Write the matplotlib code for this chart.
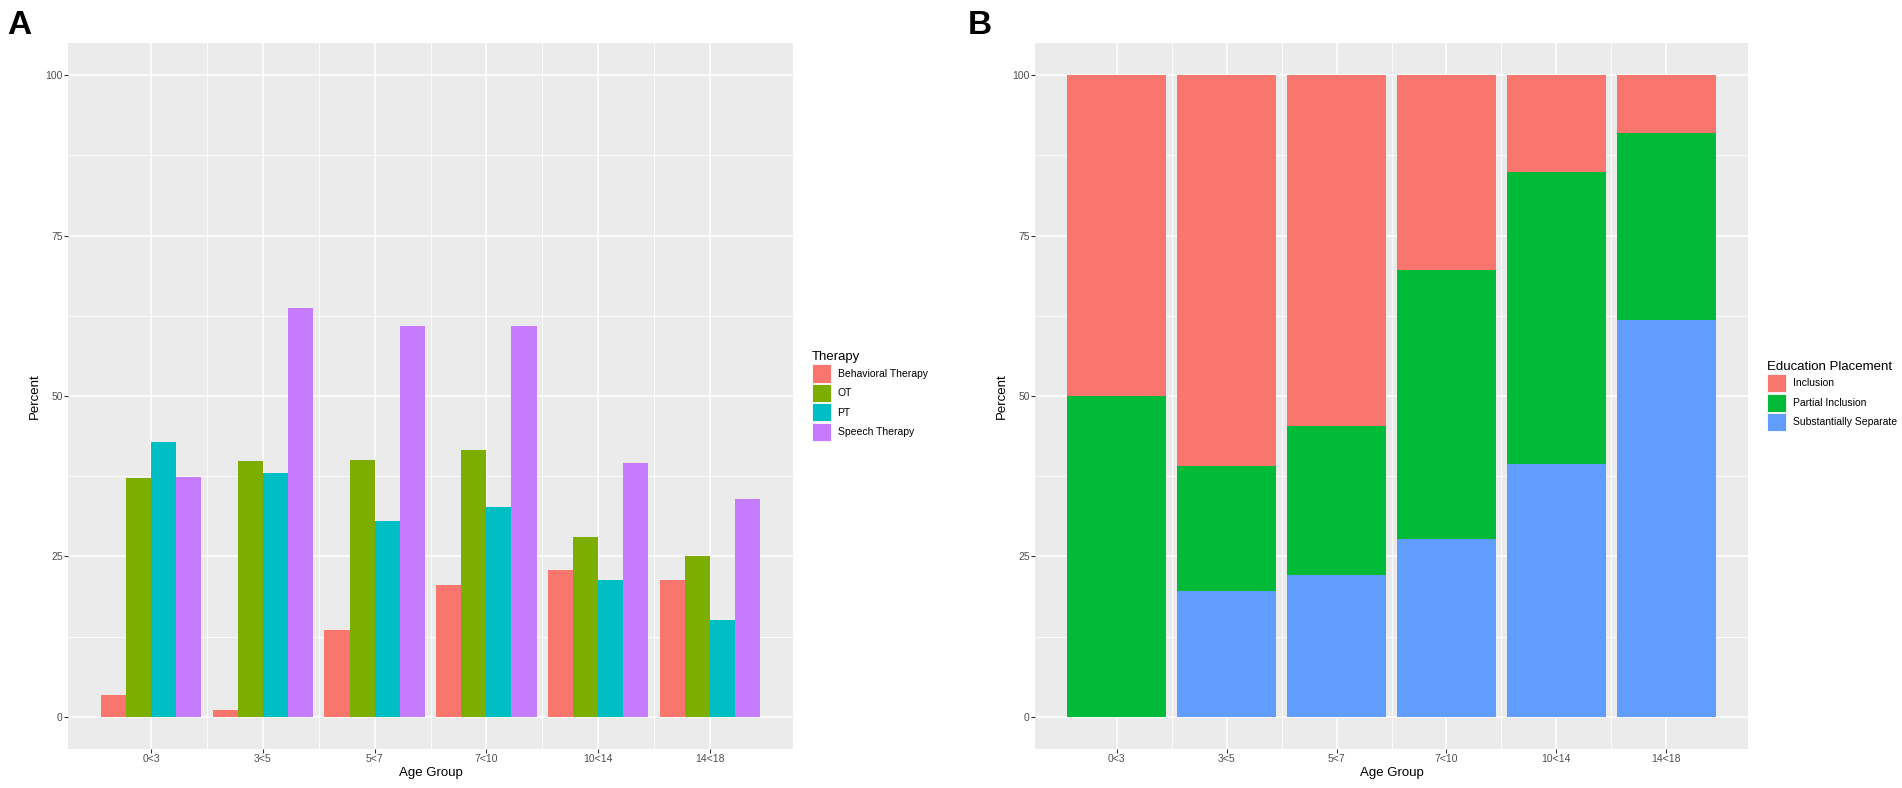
import numpy as np
import matplotlib
matplotlib.use("Agg")
import matplotlib.pyplot as plt
from matplotlib.patches import Patch

plt.rcParams['font.family'] = ['Liberation Sans Narrow', 'Liberation Sans', 'DejaVu Sans']

# data
age_groups = ["0<3", "3<5", "5<7", "7<10", "10<14", "14<18"]

therapy_names = ["Behavioral Therapy", "OT", "PT", "Speech Therapy"]
behavioral = [3.4, 1.1, 13.6, 20.6, 22.9, 21.4]
ot = [37.2, 39.9, 40.1, 41.6, 28.0, 25.0]
pt = [42.9, 38.0, 30.6, 32.7, 21.4, 15.1]
speech = [37.4, 63.7, 60.9, 60.9, 39.5, 34.0]
therapy_colors = ["#F8766D", "#7CAE00", "#00BFC4", "#C77CFF"]

placement_names = ["Inclusion", "Partial Inclusion", "Substantially Separate"]
inclusion = [50.0, 60.9, 54.7, 30.4, 15.1, 9.1]
partial = [50.0, 19.5, 23.2, 41.9, 45.5, 29.0]
separate = [0.0, 19.6, 22.1, 27.7, 39.4, 61.9]
placement_colors = ["#F8766D", "#00BA38", "#619CFF"]

W, H = 1902, 788
fig = plt.figure(figsize=(W / 100, H / 100), dpi=100)

# panel boxes in pixels (left, top, right, bottom)
axA = fig.add_axes([68 / W, 1 - 749 / H, (793 - 68) / W, (749 - 43) / H])
axB = fig.add_axes([1035 / W, 1 - 749 / H, (1748 - 1035) / W, (749 - 43) / H])

x = np.arange(len(age_groups))


def gg_style(ax):
    ax.set_facecolor("#EBEBEB")
    for s in ax.spines.values():
        s.set_visible(False)
    ax.set_xlim(-0.745, len(age_groups) - 1 + 0.745)
    ax.set_ylim(-5, 105)
    ax.set_yticks([0, 25, 50, 75, 100])
    ax.set_yticks([12.5, 37.5, 62.5, 87.5], minor=True)
    ax.set_xticks(x)
    ax.set_xticks(x[:-1] + 0.5, minor=True)
    ax.set_xticklabels(age_groups)
    ax.grid(True, which="major", color="white", linewidth=1.1)
    ax.grid(True, which="minor", color="white", linewidth=0.55)
    ax.set_axisbelow(True)
    ax.tick_params(which="major", length=2.8, width=0.8, color="#333333",
                   labelsize=7.5, labelcolor="#4D4D4D", pad=1)
    ax.tick_params(which="minor", length=0)
    ax.set_xlabel("Age Group", fontsize=9.5, labelpad=2)
    ax.set_ylabel("Percent", fontsize=9.5)
    ax.yaxis.set_label_coords(-0.038, 0.5)


# A: dodged bars
gg_style(axA)
bw = 0.9 / 4
for i, (vals, col) in enumerate(zip([behavioral, ot, pt, speech], therapy_colors)):
    axA.bar(x - 0.45 + bw * (i + 0.5), vals, width=bw, color=col, linewidth=0)

# B: stacked bars
gg_style(axB)
axB.bar(x, separate, width=0.9, color=placement_colors[2], linewidth=0)
axB.bar(x, partial, width=0.9, bottom=separate, color=placement_colors[1], linewidth=0)
axB.bar(x, inclusion, width=0.9, bottom=np.add(separate, partial),
        color=placement_colors[0], linewidth=0)


# legends, ggplot style (title on top, square keys)
def gg_legend(names, colors, title, xpix):
    handles = [Patch(facecolor=c, edgecolor="white", linewidth=0.6) for c in colors]
    leg = fig.legend(handles, names, title=title, loc="center left",
                     bbox_to_anchor=(xpix / W, 1 - 396 / H), frameon=False,
                     fontsize=7.5, title_fontsize=9.5, handlelength=1.85,
                     handleheight=2.3, labelspacing=0.12, handletextpad=0.6,
                     borderpad=0, borderaxespad=0, alignment="left")
    return leg


gg_legend(therapy_names, therapy_colors, "Therapy", 812)
gg_legend(placement_names, placement_colors, "Education Placement", 1767)

# panel letters
fig.text(7 / W, 1 - 34 / H, "A", fontsize=24, fontweight="bold",
         family=["Liberation Sans", "DejaVu Sans"], va="baseline")
fig.text(968 / W, 1 - 34 / H, "B", fontsize=24, fontweight="bold",
         family=["Liberation Sans", "DejaVu Sans"], va="baseline")

fig.savefig("out.png", dpi=100)
